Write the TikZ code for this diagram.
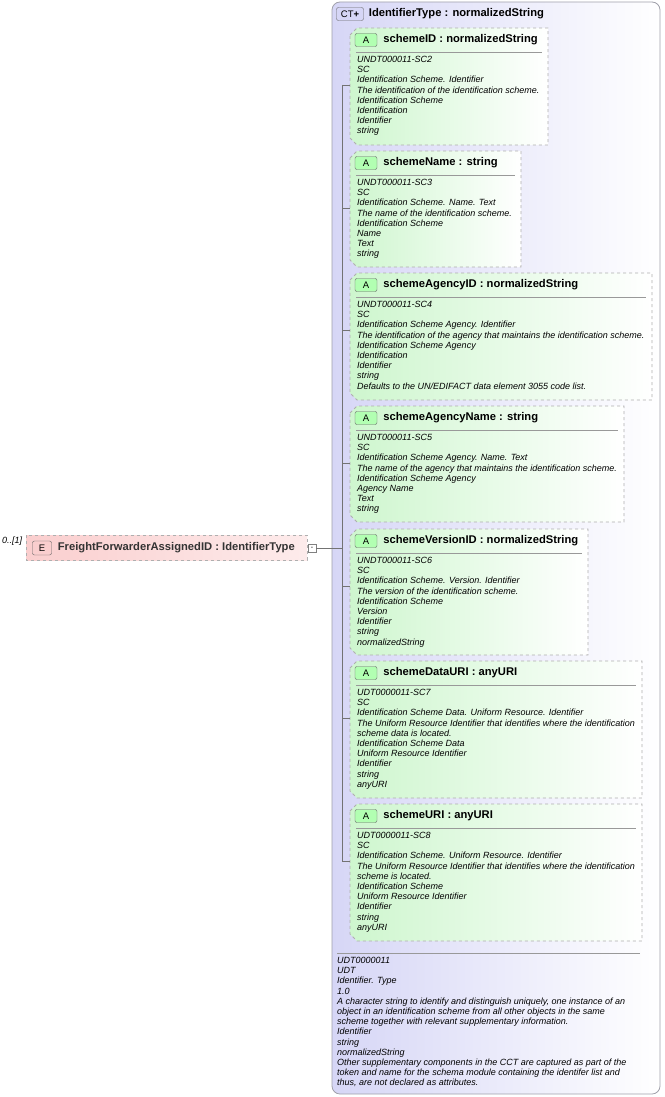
\documentclass[tikz,border=0pt]{standalone}
\usepackage{fontspec}
\setmainfont{Liberation Sans}
\usetikzlibrary{positioning}
\definecolor{ctfill}{RGB}{214,214,246}
\definecolor{ctline}{RGB}{160,160,170}
\definecolor{attfill}{RGB}{206,246,206}
\definecolor{elfill}{RGB}{250,206,206}
\definecolor{boxline}{RGB}{175,175,175}
\tikzset{
  attbox/.style={draw=boxline,dashed,line width=0.9pt,left color=attfill,right color=white},
  icon/.style={draw=black!60,rounded corners=2pt,inner sep=0pt,minimum height=13pt,font=\fontsize{9.5}{9.5}\selectfont},
  head/.style={anchor=west,inner sep=0pt,font=\fontsize{11.2}{11.2}\selectfont\bfseries},
  doc/.style={anchor=north west,inner sep=0pt,align=left,font=\fontsize{9}{10.2}\selectfont\itshape},
  link/.style={draw=black!55,line width=0.5pt},
}
% name, top, bottom, right, title, body
\newcommand\attr[6]{%
  \draw[attbox] (350,#2+7) -- (357,#2) -- (#4,#2) -- (#4,#3) -- (357,#3) -- (350,#3-7) -- cycle;
  \node[icon,fill=green!30,minimum width=22pt] (#1icon) at (366,#2+12) {A};
  \node[head,right=6pt of #1icon] (#1head) {#5};
  \draw[black!40] (356,#2+24) -- (#4-6,#2+24);
  \node[doc] (#1doc) at (357,#2+28) {#6};
  \coordinate (#1) at (350,#2+57);
  \coordinate (#1trunk) at (342,#2+57);
  \draw[link] (#1trunk) -- (#1);
}
\begin{document}
\begin{tikzpicture}[x=1pt,y=-1pt]
\useasboundingbox (0,0) rectangle (664,1097);
% complex type
\draw[draw=ctline,rounded corners=8pt,left color=ctfill,right color=white,line width=0.8pt]
  (332,2) rectangle (660,1094);
\node[icon,fill=ctfill,minimum width=27pt] (cticon) at (350,14) {CT\textbf{+}};
\node[head,right=5pt of cticon] (cthead) {IdentifierType : normalizedString};

\attr{sid}{28}{145}{548}{schemeID : normalizedString}{UNDT000011-SC2\\SC\\Identification Scheme. Identifier\\The identification of the identification scheme.\\Identification Scheme\\Identification\\Identifier\\string}
\attr{sname}{151}{267}{521}{schemeName : string}{UNDT000011-SC3\\SC\\Identification Scheme. Name. Text\\The name of the identification scheme.\\Identification Scheme\\Name\\Text\\string}
\attr{said}{273}{400}{652}{schemeAgencyID : normalizedString}{UNDT000011-SC4\\SC\\Identification Scheme Agency. Identifier\\The identification of the agency that maintains the identification scheme.\\Identification Scheme Agency\\Identification\\Identifier\\string\\Defaults to the UN/EDIFACT data element 3055 code list.}
\attr{saname}{406}{522}{624}{schemeAgencyName : string}{UNDT000011-SC5\\SC\\Identification Scheme Agency. Name. Text\\The name of the agency that maintains the identification scheme.\\Identification Scheme Agency\\Agency Name\\Text\\string}
\attr{svid}{529}{655}{588}{schemeVersionID : normalizedString}{UNDT000011-SC6\\SC\\Identification Scheme. Version. Identifier\\The version of the identification scheme.\\Identification Scheme\\Version\\Identifier\\string\\normalizedString}
\attr{sdata}{661}{798}{642}{schemeDataURI : anyURI}{UDT0000011-SC7\\SC\\Identification Scheme Data. Uniform Resource. Identifier\\The Uniform Resource Identifier that identifies where the identification\\scheme data is located.\\Identification Scheme Data\\Uniform Resource Identifier\\Identifier\\string\\anyURI}
\attr{suri}{804}{941}{642}{schemeURI : anyURI}{UDT0000011-SC8\\SC\\Identification Scheme. Uniform Resource. Identifier\\The Uniform Resource Identifier that identifies where the identification\\scheme is located.\\Identification Scheme\\Uniform Resource Identifier\\Identifier\\string\\anyURI}
\draw[link] (sidtrunk) -- (suritrunk);

% type documentation
\draw[black!40] (337,953) -- (640,953);
\node[doc] (ctdoc) at (337,957) {UDT0000011\\UDT\\Identifier. Type\\1.0\\A character string to identify and distinguish uniquely, one instance of an\\object in an identification scheme from all other objects in the same\\scheme together with relevant supplementary information.\\Identifier\\string\\normalizedString\\Other supplementary components in the CCT are captured as part of the\\token and name for the schema module containing the identifer list and\\thus, are not declared as attributes.};

% element
\draw[draw=boxline,dashed,line width=0.9pt,left color=elfill,right color=elfill!40] (26,535) rectangle (307,560);
\node[icon,fill=elfill,minimum width=19pt,minimum height=14pt] (elicon) at (42,548) {E};
\node[head,right=6pt of elicon,text=black!80] (elhead) {FreightForwarderAssignedID : IdentifierType};
\node[anchor=west,inner sep=0pt,font=\fontsize{9}{9}\selectfont\itshape] (occ) at (2,541) {0..[1]};
\node[draw=black!50,fill=white,minimum size=8pt,inner sep=0pt,font=\fontsize{7}{7}\selectfont] (collapse) at (312,548) {-};
\coordinate (eltrunk) at (342,548);
\draw[link] (collapse) -- (eltrunk);
\end{tikzpicture}
\end{document}
